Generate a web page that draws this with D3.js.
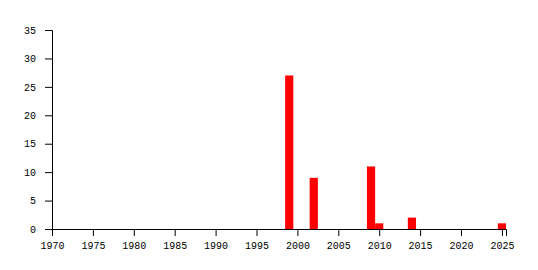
<!DOCTYPE html>
<html>
<head>
<meta charset="utf-8">
<script src="https://cdn.jsdelivr.net/npm/d3@7"></script>
<style>
  body { margin: 0; background: #fff; }
  svg text { font-family: "Liberation Mono", monospace; font-size: 10px; fill: #000; }
</style>
</head>
<body>
<div id="chart"></div>
<script>
// values
let years = [1999, 2002, 2009, 2010, 2014, 2025];
let counts = [27, 9, 11, 1, 2, 1];
let xTicks = [1970, 1975, 1980, 1985, 1990, 1995, 2000, 2005, 2010, 2015, 2020, 2025];
let yTicks = [0, 5, 10, 15, 20, 25, 30, 35];

let width = 538, height = 270;
let margin = {left: 52, top: 30, right: 32, bottom: 41};

let svg = d3.select("#chart")
    .append("svg")
    .attr("width", width)
    .attr("height", height);

let x = d3.scaleLinear()
    .domain([1970, 2025.5])
    .range([margin.left, width - margin.right]);

let y = d3.scaleLinear()
    .domain([0, 35])
    .range([height - margin.bottom, margin.top]);

let barW = x(1971) - x(1970);

svg.selectAll("rect")
    .data(years)
    .enter()
    .append("rect")
    .attr("x", function(d) { return x(d) - barW / 2; })
    .attr("y", function(d, i) { return y(counts[i]); })
    .attr("width", barW)
    .attr("height", function(d, i) { return y(0) - y(counts[i]); })
    .attr("fill", "#ff0000");

svg.append("g")
    .attr("transform", `translate(0, ${y(0)})`)
    .call(d3.axisBottom(x).tickValues(xTicks).tickFormat(d3.format("d")).tickSizeOuter(0).tickSize(7).tickPadding(6))
    .attr("font-family", null).attr("font-size", null);

svg.append("g")
    .attr("transform", `translate(${margin.left}, 0)`)
    .call(d3.axisLeft(y).tickValues(yTicks).tickSizeOuter(0).tickSize(7).tickPadding(9))
    .attr("font-family", null).attr("font-size", null);

svg.selectAll(".domain, .tick line").attr("stroke", "#000");
</script>
</body>
</html>
